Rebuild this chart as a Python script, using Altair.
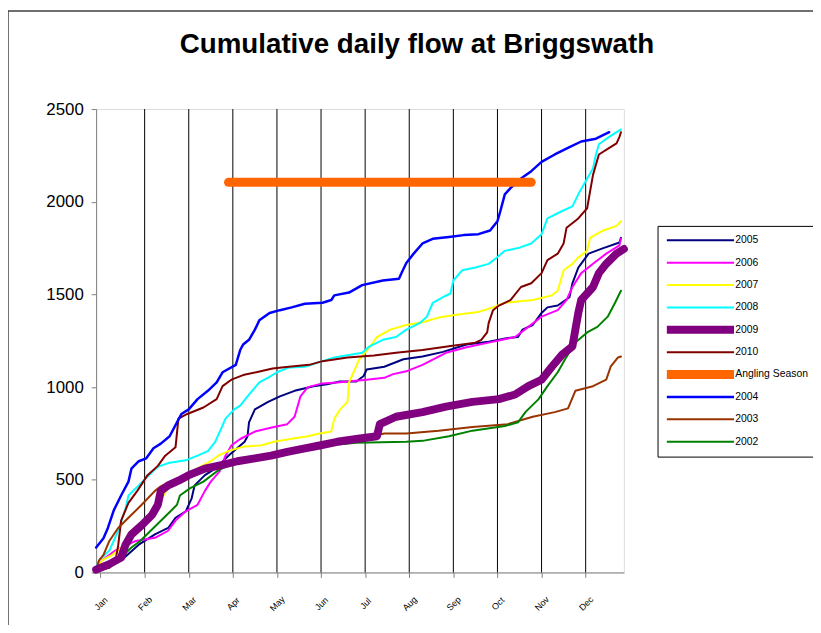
import altair as alt
import pandas as pd

# ---------------- data ----------------
months = ["Jan", "Feb", "Mar", "Apr", "May", "Jun", "Jul", "Aug", "Sep", "Oct", "Nov", "Dec"]
label_days = [3, 33, 63, 93, 123, 153, 183, 213, 243, 273, 303, 333]
grid_days = [33, 63, 93, 123, 153, 183, 213, 243, 273, 303, 333]
y_ticks = [0, 500, 1000, 1500, 2000, 2500]
title_text = ["Cumulative daily flow at Briggswath"]

series_order = ["2005", "2006", "2007", "2008", "2009", "2010",
                "Angling Season", "2004", "2003", "2002"]
colors = ["#000080", "#FF00FF", "#FFFF00", "#00FFFF", "#800080", "#800000",
          "#FF6600", "#0000FF", "#993300", "#008000"]
widths = [2, 2, 2, 2, 8, 2, 9, 2.5, 2, 2]

d2005 = [0, 17, 29, 40, 49, 54, 61, 65, 67, 74, 81, 90, 101, 103, 104, 108, 117, 125, 135, 148,
         157, 166, 177, 182, 184, 196, 209, 222, 236, 252, 267, 280, 287, 290, 297, 303, 307, 314,
         322, 324, 328, 335, 345, 356, 357]
v2005 = [5, 65, 150, 205, 240, 295, 330, 400, 470, 525, 560, 630, 705, 735, 810, 880, 920, 950,
         980, 1005, 1015, 1030, 1030, 1060, 1095, 1110, 1150, 1165, 1190, 1230, 1245, 1265, 1270,
         1310, 1335, 1400, 1430, 1440, 1485, 1560, 1645, 1720, 1750, 1780, 1805]

d2006 = [0, 4, 13, 27, 40, 49, 54, 61, 69, 74, 78, 84, 88, 92, 98, 108, 121, 130, 135, 139,
         144, 154, 164, 184, 196, 202, 211, 222, 238, 252, 267, 285, 294, 303, 314, 320, 324, 330,
         338, 347, 356, 357]
v2006 = [5, 65, 118, 170, 187, 225, 280, 330, 365, 440, 490, 545, 630, 685, 720, 760, 785, 800,
         840, 950, 1000, 1020, 1025, 1040, 1050, 1070, 1085, 1120, 1185, 1215, 1240, 1270, 1325,
         1380, 1415, 1470, 1540, 1615, 1665, 1720, 1765, 1800]

d2007 = [0, 4, 11, 19, 36, 49, 63, 78, 83, 90, 101, 112, 121, 132, 144, 152, 160, 162, 166, 171,
         172, 174, 179, 186, 191, 200, 211, 222, 233, 245, 260, 270, 278, 297, 310, 314, 318, 324,
         328, 334, 336, 345, 354, 357]
v2007 = [15, 65, 95, 145, 295, 455, 535, 600, 630, 655, 680, 685, 705, 720, 735, 750, 760, 830,
         880, 920, 1025, 1060, 1150, 1215, 1270, 1310, 1335, 1350, 1375, 1390, 1405, 1430, 1455,
         1470, 1495, 1520, 1630, 1665, 1700, 1735, 1805, 1845, 1870, 1895]

d2008 = [0, 2, 9, 15, 20, 22, 29, 36, 42, 49, 61, 69, 76, 81, 85, 88, 94, 98, 103, 111, 118, 123,
         131, 142, 154, 162, 181, 186, 195, 204, 211, 220, 225, 229, 236, 241, 243, 249, 258, 267,
         272, 278, 287, 296, 303, 307, 317, 324, 328, 333, 338, 340, 342, 349, 357]
v2008 = [25, 65, 118, 225, 345, 415, 470, 525, 570, 590, 605, 630, 655, 705, 775, 830, 880, 900,
         950, 1025, 1055, 1080, 1105, 1110, 1140, 1160, 1185, 1220, 1255, 1270, 1310, 1345, 1380,
         1455, 1485, 1505, 1575, 1630, 1645, 1665, 1695, 1735, 1750, 1775, 1825, 1910, 1950, 1975,
         2040, 2110, 2180, 2255, 2310, 2350, 2390]

d2009 = [0, 9, 17, 20, 24, 31, 38, 42, 44, 49, 56, 63, 74, 86, 96, 108, 119, 130, 142, 152, 164,
         177, 191, 193, 204, 222, 238, 256, 274, 285, 294, 303, 310, 317, 324, 326, 328, 330, 338,
         342, 347, 354, 359]
v2009 = [15, 45, 80, 150, 205, 255, 310, 365, 440, 470, 495, 525, 560, 580, 600, 615, 630, 650,
         670, 685, 705, 720, 735, 800, 840, 865, 895, 920, 935, 960, 1005, 1040, 1110, 1175, 1220,
         1310, 1400, 1470, 1540, 1615, 1665, 1720, 1745]

d2010 = [0, 9, 13, 15, 17, 22, 28, 35, 42, 47, 54, 56, 62, 73, 82, 86, 92, 100, 109, 120, 131,
         145, 154, 171, 189, 204, 222, 240, 258, 262, 266, 267, 270, 274, 282, 289, 296, 303, 307,
         314, 318, 320, 328, 334, 336, 338, 342, 348, 354, 356, 357]
v2010 = [10, 25, 55, 145, 280, 375, 440, 525, 575, 630, 675, 830, 855, 890, 935, 1005, 1040, 1065,
         1080, 1100, 1110, 1120, 1140, 1160, 1170, 1185, 1200, 1220, 1240, 1255, 1295, 1345, 1415,
         1440, 1470, 1540, 1560, 1615, 1685, 1720, 1775, 1860, 1910, 1965, 2055, 2145, 2255, 2285,
         2315, 2350, 2375]

d_angling = [90, 296]
v_angling = [2105, 2105]

d2004 = [0, 5, 8, 12, 17, 22, 24, 29, 34, 39, 44, 50, 55, 58, 63, 69, 76, 82, 86, 95, 98, 100,
         104, 108, 111, 118, 125, 133, 142, 154, 160, 162, 172, 181, 195, 206, 208, 211, 216, 222,
         229, 240, 250, 260, 268, 273, 275, 278, 282, 289, 296, 303, 312, 322, 330, 340, 349]
v2004 = [135, 185, 240, 335, 415, 490, 560, 600, 615, 670, 695, 735, 810, 855, 880, 935, 980,
         1025, 1080, 1120, 1200, 1230, 1255, 1310, 1360, 1400, 1415, 1430, 1450, 1455, 1470, 1495,
         1510, 1550, 1575, 1585, 1620, 1670, 1720, 1775, 1800, 1810, 1820, 1825, 1845, 1895, 1950,
         2040, 2075, 2125, 2165, 2215, 2255, 2295, 2325, 2340, 2375]

d2003 = [0, 2, 5, 9, 15, 22, 31, 40, 44, 53, 69, 96, 137, 164, 196, 211, 233, 256, 280, 297, 312,
         321, 326, 338, 347, 350, 355, 357]
v2003 = [15, 65, 95, 170, 240, 295, 365, 440, 465, 500, 540, 595, 655, 695, 750, 750, 765, 785,
         800, 840, 865, 885, 980, 1005, 1040, 1110, 1160, 1165]

d2002 = [0, 15, 24, 30, 39, 48, 55, 57, 64, 73, 82, 89, 110, 137, 164, 177, 211, 222, 240, 256,
         278, 287, 292, 301, 307, 314, 319, 326, 334, 341, 348, 353, 357]
v2002 = [0, 65, 135, 170, 240, 310, 365, 415, 455, 490, 545, 575, 625, 670, 690, 700, 705, 710,
         735, 765, 790, 810, 865, 935, 1005, 1080, 1150, 1240, 1295, 1325, 1380, 1455, 1520]

# drawing order (later drawn on top)
draw = [("2005", d2005, v2005), ("2006", d2006, v2006), ("2007", d2007, v2007),
        ("2008", d2008, v2008), ("2010", d2010, v2010), ("2004", d2004, v2004),
        ("2003", d2003, v2003), ("2002", d2002, v2002), ("2009", d2009, v2009),
        ("Angling Season", d_angling, v_angling)]

rows = []
for k, (name, ds, vs) in enumerate(draw):
    for i, (d, v) in enumerate(zip(ds, vs)):
        rows.append({"series": name, "day": d, "value": v, "ord": k * 1000 + i})
df = pd.DataFrame(rows)

FONT = "Liberation Sans"
months_js = "[" + ",".join("'%s'" % m for m in months) + "]"

x_enc = alt.X("day:Q",
              scale=alt.Scale(domain=[0, 359], nice=False, zero=False),
              axis=alt.Axis(values=label_days, grid=False, title=None,
                            labelExpr=months_js + "[round((datum.value-3)/30)]",
                            labelAngle=-45, labelAlign="center", labelBaseline="middle",
                            labelPadding=26, labelFontSize=9, labelFont=FONT,
                            labelColor="black", tickSize=5, domainColor="#808080",
                            tickColor="#808080"))
y_enc = alt.Y("value:Q",
              scale=alt.Scale(domain=[0, 2500], nice=False),
              axis=alt.Axis(values=y_ticks, grid=False, title=None, tickSize=5, format="d",
                            labelPadding=8, labelFontSize=17, labelFont=FONT,
                            labelColor="black", domainColor="#808080",
                            tickColor="#808080"))

# clipHeight gives every legend row the same height despite the thick strokes
legend = alt.Legend(title=None, orient="none", legendX=567, legendY=118,
                    strokeColor="black", fillColor="white", padding=9,
                    symbolType="M-68,0H68", symbolSize=1, symbolOffset=29,
                    labelFont=FONT, labelFontSize=10.5, labelColor="black",
                    clipHeight=11, rowPadding=11.6, labelOffset=30, cornerRadius=0)

lines = alt.Chart(df).mark_line(strokeCap="round", strokeJoin="round").encode(
    x=x_enc,
    y=y_enc,
    color=alt.Color("series:O", scale=alt.Scale(domain=series_order, range=colors),
                    legend=legend),
    strokeWidth=alt.StrokeWidth("series:O",
                                scale=alt.Scale(type="ordinal", domain=series_order,
                                                range=widths),
                                legend=legend),
    order=alt.Order("ord:Q"),
)

grid = alt.Chart(pd.DataFrame({"day": grid_days})).mark_rule(
    color="black", strokeWidth=1).encode(x=alt.X("day:Q"))

title = alt.Chart(pd.DataFrame({"t": title_text})).mark_text(
    font=FONT, fontSize=28, fontWeight="bold", align="center", baseline="alphabetic",
    color="black").encode(text="t:N", x=alt.value(324), y=alt.value(-57))

frame_df = pd.DataFrame({"a": [0]})
frame_left = alt.Chart(frame_df).mark_rule(color="#404040", strokeWidth=1.5).encode(
    x=alt.value(-89), y=alt.value(-99), y2=alt.value(530))
frame_top = alt.Chart(frame_df).mark_rule(color="#404040", strokeWidth=1.5).encode(
    x=alt.value(-89), x2=alt.value(730), y=alt.value(-99))

chart = alt.layer(grid, lines, title, frame_left, frame_top).properties(
    width=533, height=468,
    autosize=alt.AutoSizeParams(type="none"),
    padding={"left": 89, "top": 99, "right": 191, "bottom": 50},
).configure_view(stroke=None).configure(background="white")

chart.save("out.html", embed_options={"renderer": "svg", "actions": False})
